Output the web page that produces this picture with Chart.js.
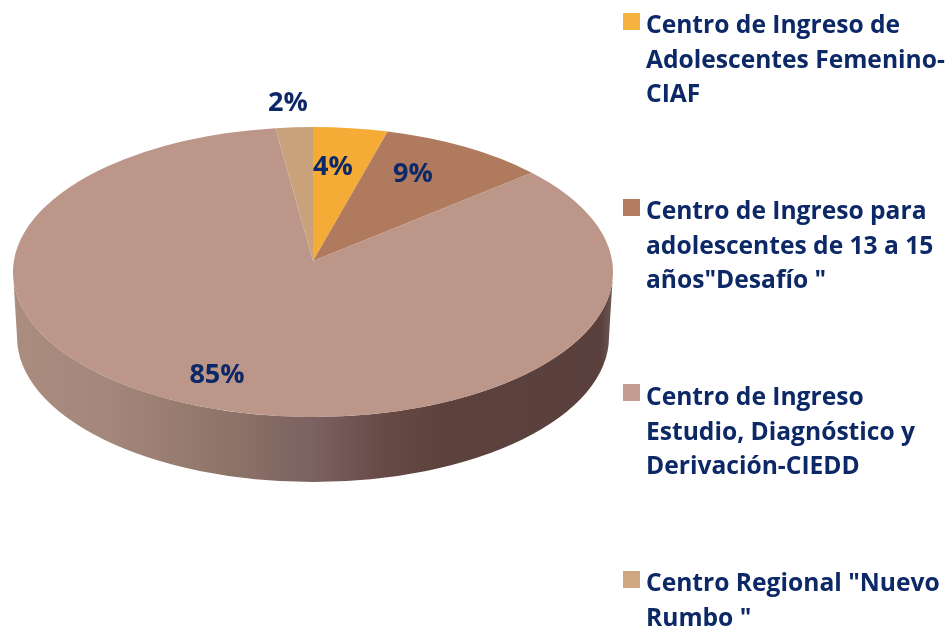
<!DOCTYPE html>
<html>
<head>
<meta charset="utf-8">
<script src="https://cdn.jsdelivr.net/npm/chart.js@4"></script>
<style>
  html, body { margin: 0; background: #fff; overflow: hidden; }
  #wrap { position: relative; width: 948px; height: 626px; }
  canvas { position: absolute; left: 0; top: 0; }
  .item { position: absolute; left: 646px; font: 700 24.6px/34.5px "Open Sans", sans-serif; color: #0c2866; white-space: pre; }
  .box { position: absolute; left: 623px; width: 17px; height: 17px; }
</style>
</head>
<body>
<div id="wrap">
  <canvas id="pie" width="948" height="626"></canvas>
</div>
<script>
const categories = [
  'Centro de Ingreso de\nAdolescentes Femenino-\nCIAF',
  'Centro de Ingreso para\nadolescentes de 13 a 15\naños"Desafío "',
  'Centro de Ingreso\nEstudio, Diagnóstico y\nDerivación-CIEDD',
  'Centro Regional "Nuevo\nRumbo "'
];
const values = [4, 9, 85, 2];
const colors = ['#f4ac36', '#b07a5f', '#bc9689', '#c9a27c'];
const boxColors = ['#f6b23e', '#b27c63', '#c49d90', '#cfa882'];

// where the legend entries and percent labels sit
const legendTops = [7, 193, 379, 565];
const boxTops = [13, 199, 384, 571];
const labelCenters = [[333, 167], [413, 174], [217, 375], [288, 103]];

// the flat pie is squashed to an ellipse and given an edge
const centerY = 272, squash = 145 / 300, depth = 65, apexLift = 11;

const wrap = document.getElementById('wrap');
categories.forEach((name, i) => {
  const box = document.createElement('div');
  box.className = 'box';
  box.style.top = boxTops[i] + 'px';
  box.style.background = boxColors[i];
  wrap.appendChild(box);
  const item = document.createElement('div');
  item.className = 'item';
  item.style.top = legendTops[i] + 'px';
  item.textContent = name;
  wrap.appendChild(item);
});

// slices keep their angles from the library, only the tip sits a bit higher (perspective)
function drawLifted(ctx) {
  ctx.beginPath();
  ctx.moveTo(this.x, this.y - apexLift / squash);
  ctx.arc(this.x, this.y, this.outerRadius, this.startAngle, this.endAngle);
  ctx.closePath();
  ctx.fillStyle = this.options.backgroundColor;
  ctx.fill();
}

const tilt = {
  id: 'tilt',
  beforeDatasetsDraw(chart) {
    const ctx = chart.ctx;
    const meta = chart.getDatasetMeta(0);
    const arc = meta.data[0];
    const cx = arc.x, r = arc.outerRadius, ry = r * squash;
    meta.data.forEach(el => { el.draw = drawLifted; });

    // side wall
    const grad = ctx.createLinearGradient(cx - r, 0, cx + r, 0);
    grad.addColorStop(0, '#ab8d80');
    grad.addColorStop(0.16, '#a3877a');
    grad.addColorStop(0.35, '#8f7568');
    grad.addColorStop(0.5, '#7b6160');
    grad.addColorStop(0.62, '#654a46');
    grad.addColorStop(0.72, '#5c413d');
    grad.addColorStop(0.98, '#5a403c');
    grad.addColorStop(1, '#6e5a56');
    ctx.save();
    ctx.beginPath();
    ctx.ellipse(cx, centerY, r, ry, 0, 0, Math.PI);
    ctx.lineTo(cx - r + 4, centerY + depth);
    ctx.ellipse(cx, centerY + depth, r - 4, ry, 0, Math.PI, 0, true);
    ctx.closePath();
    ctx.fillStyle = grad;
    ctx.fill();
    ctx.restore();

    ctx.save();
    ctx.translate(0, centerY);
    ctx.scale(1, squash);
    ctx.translate(0, -arc.y);
  },
  afterDatasetsDraw(chart) {
    const ctx = chart.ctx;
    ctx.restore();
    ctx.save();
    ctx.font = '700 27px "Open Sans", sans-serif';
    ctx.fillStyle = '#0c2866';
    ctx.textAlign = 'center';
    ctx.textBaseline = 'middle';
    values.forEach((v, i) => {
      ctx.fillText(v + '%', labelCenters[i][0], labelCenters[i][1]);
    });
    ctx.restore();
  }
};

new Chart(document.getElementById('pie').getContext('2d'), {
  type: 'pie',
  data: {
    labels: categories,
    datasets: [{ data: values, backgroundColor: colors, borderWidth: 0 }]
  },
  options: {
    responsive: false,
    animation: false,
    layout: { padding: { left: 13, right: 335, top: 13, bottom: 13 } },
    plugins: { legend: { display: false }, tooltip: { enabled: false } }
  },
  plugins: [tilt]
});
</script>
</body>
</html>
